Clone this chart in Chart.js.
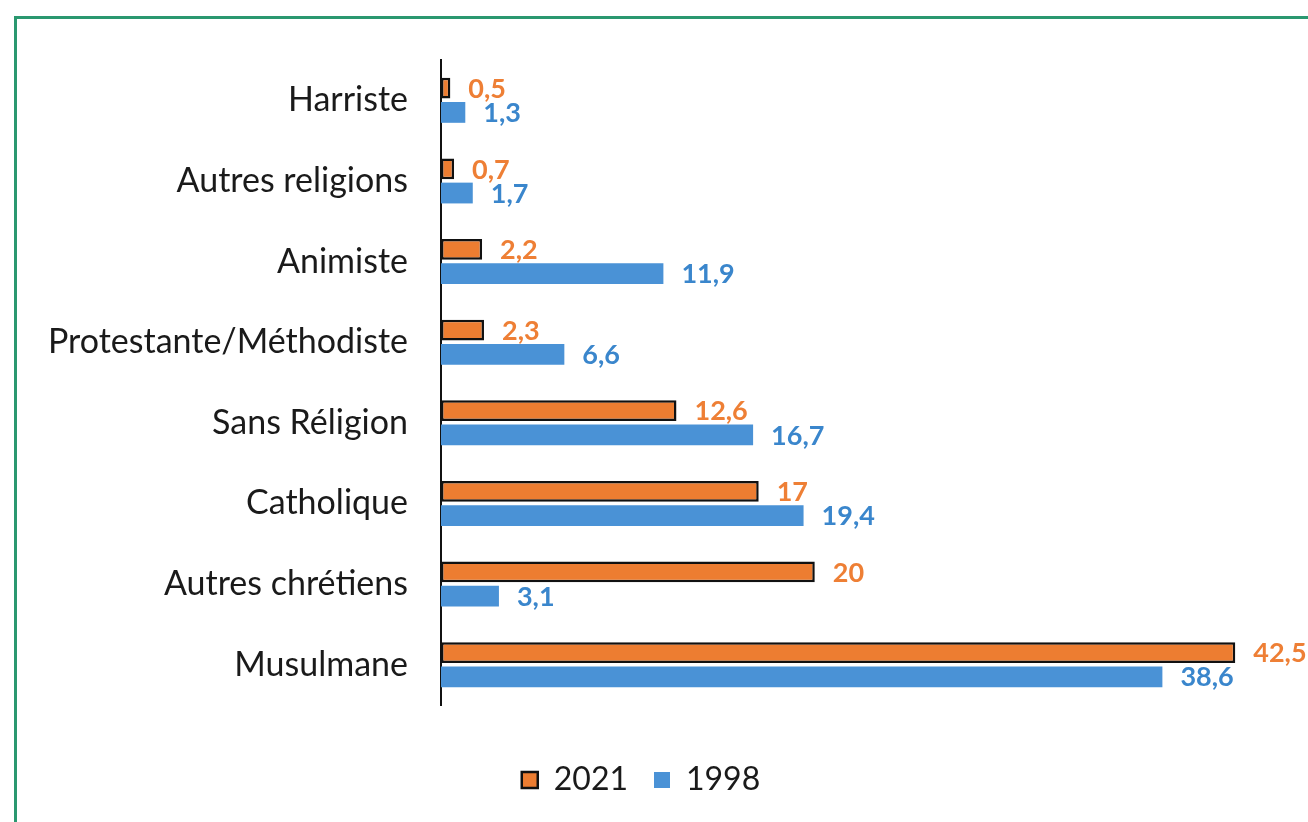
<!DOCTYPE html>
<html>
<head>
<meta charset="utf-8">
<script src="https://cdn.jsdelivr.net/npm/chart.js@4.4.0/dist/chart.umd.min.js"></script>
<style>
  body { margin: 0; background: #fff; }
  #cadre {
    position: absolute; left: 14px; top: 16px; width: 1400px; height: 900px;
    border: 3px solid #2a9870; box-sizing: border-box;
  }
  #wrap { position: absolute; left: 0; top: 0; width: 1308px; height: 822px; }
</style>
</head>
<body>
<div id="cadre"></div>
<div id="wrap"><canvas id="religions" width="1308" height="822"></canvas></div>
<script>
var categories = ['Harriste', 'Autres religions', 'Animiste', 'Protestante/Méthodiste',
    'Sans Réligion', 'Catholique', 'Autres chrétiens', 'Musulmane'];
var valeurs2021 = [0.5, 0.7, 2.2, 2.3, 12.6, 17, 20, 42.5];
var valeurs1998 = [1.3, 1.7, 11.9, 6.6, 16.7, 19.4, 3.1, 38.6];
var annees = ['2021', '1998'];

const orange = '#ED7D31';
const bleu = '#4A92D6';
const couleursTexte = ['#EE7F35', '#3A86CC'];

// etiquettes de valeurs au bout des barres
const etiquettes = {
    id: 'etiquettes',
    afterDatasetsDraw(chart) {
        const ctx = chart.ctx;
        ctx.save();
        ctx.font = 'bold 27px Lato';
        ctx.textAlign = 'left';
        ctx.textBaseline = 'middle';
        chart.data.datasets.forEach((ds, i) => {
            const meta = chart.getDatasetMeta(i);
            ctx.fillStyle = couleursTexte[i];
            meta.data.forEach((bar, j) => {
                const txt = String(ds.data[j]).replace('.', ',');
                ctx.fillText(txt, bar.x + 18, bar.y + 1);
            });
        });
        ctx.restore();
    }
};

const ctx = document.getElementById('religions');
new Chart(ctx, {
    type: 'bar',
    data: {
        labels: categories,
        datasets: [
            {
                label: annees[0],
                data: valeurs2021,
                backgroundColor: orange,
                borderColor: '#111',
                borderWidth: 2.5,
                borderSkipped: false
            },
            {
                label: annees[1],
                data: valeurs1998,
                backgroundColor: bleu,
                borderWidth: 0
            }
        ]
    },
    options: {
        indexAxis: 'y',
        responsive: false,
        animation: false,
        devicePixelRatio: 1,
        categoryPercentage: 0.6,
        barPercentage: 0.86,
        layout: { padding: { top: 60, right: 26, left: 0, bottom: 16 } },
        scales: {
            x: {
                min: 0, max: 45,
                grid: { display: false },
                border: { display: false },
                ticks: { display: false },
                afterFit(s) { s.height = 33; }
            },
            y: {
                grid: { display: false },
                border: { display: true, color: '#111', width: 2 },
                ticks: {
                    color: '#1a1a1a',
                    font: { family: 'Lato', size: 34 },
                    padding: 25
                },
                afterFit(s) { s.width = 441; }
            }
        },
        plugins: {
            legend: {
                position: 'bottom',
                labels: {
                    color: '#1a1a1a',
                    font: { family: 'Lato', size: 32 },
                    boxWidth: 16,
                    boxHeight: 16,
                    padding: 26
                }
            },
            tooltip: { enabled: false }
        }
    },
    plugins: [etiquettes]
});
</script>
</body>
</html>
